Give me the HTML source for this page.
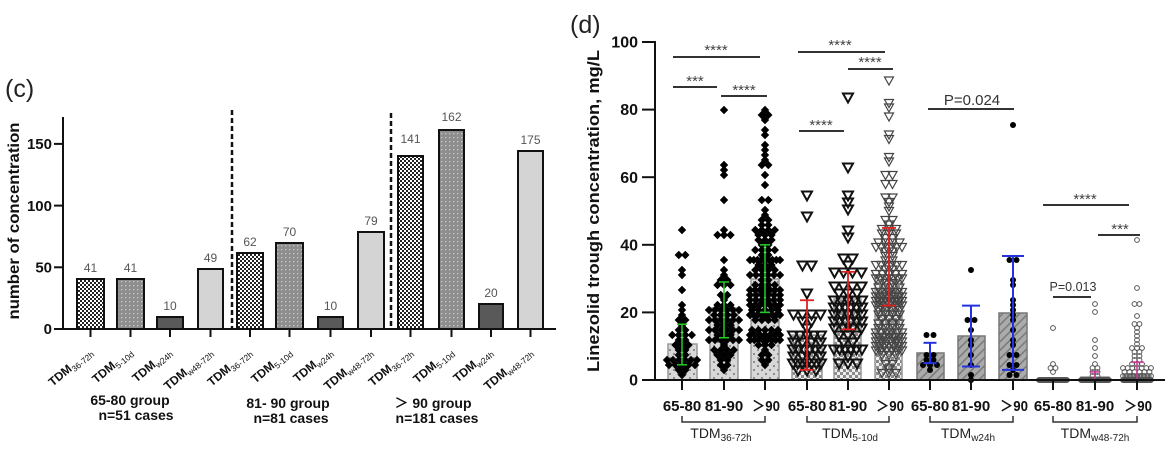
<!DOCTYPE html>
<html><head><meta charset="utf-8"><style>
html,body{margin:0;padding:0;background:#fff;}
svg{display:block;font-family:"Liberation Sans","Noto Sans CJK SC",sans-serif;}
</style></head><body>
<svg id="s" width="1166" height="450" viewBox="0 0 1166 450" xmlns="http://www.w3.org/2000/svg">
<defs>
<pattern id="chk" width="4" height="4" patternUnits="userSpaceOnUse"><rect width="4" height="4" fill="#fff"/><rect width="2" height="2" fill="#222"/><rect x="2" y="2" width="2" height="2" fill="#222"/></pattern>
<pattern id="dotc" width="4" height="4" patternUnits="userSpaceOnUse"><rect width="4" height="4" fill="#8e8e8e"/><rect x="1" y="1" width="1.3" height="1.3" fill="#c9c9c9"/></pattern>
<pattern id="dotd" width="8" height="8" patternUnits="userSpaceOnUse"><rect width="8" height="8" fill="#d8d8d8"/><circle cx="2" cy="2" r="1" fill="#777"/><circle cx="6" cy="6" r="1" fill="#777"/></pattern>
<pattern id="chkd" width="6" height="6" patternUnits="userSpaceOnUse"><rect width="6" height="6" fill="#eee"/><rect width="3" height="3" fill="#8a8a8a"/><rect x="3" y="3" width="3" height="3" fill="#8a8a8a"/></pattern>
<pattern id="hat" width="6" height="6" patternUnits="userSpaceOnUse" patternTransform="rotate(45)"><rect width="6" height="6" fill="#ababab"/><rect width="1.5" height="6" fill="#7a7a7a"/></pattern>
</defs>
<rect width="1166" height="450" fill="#fff"/>

<!-- ===== Panel (c) ===== -->
<text x="5" y="97" font-size="25" fill="#222">(c)</text>
<text transform="translate(19,221) rotate(-90)" text-anchor="middle" font-size="16" font-weight="bold" fill="#111" textLength="197" lengthAdjust="spacingAndGlyphs">number of concentration</text>

<g stroke="#111" stroke-width="2">
<line x1="63" y1="117" x2="63" y2="330"/>
<line x1="62" y1="329" x2="556" y2="329"/>
<line x1="54" y1="329" x2="63" y2="329"/>
<line x1="54" y1="267.3" x2="63" y2="267.3"/>
<line x1="54" y1="205.6" x2="63" y2="205.6"/>
<line x1="54" y1="143.9" x2="63" y2="143.9"/>
</g>
<g font-size="15" font-weight="bold" fill="#111" text-anchor="end">
<text x="52" y="334">0</text>
<text x="52" y="272.5">50</text>
<text x="52" y="211">100</text>
<text x="52" y="149">150</text>
</g>

<g stroke="#111" stroke-width="2.5" stroke-dasharray="5 3">
<line x1="232" y1="110" x2="232" y2="329"/>
<line x1="391" y1="113" x2="391" y2="329"/>
</g>

<g stroke="#111" stroke-width="2">
<rect x="77" y="279" width="27" height="50" fill="url(#chk)"/>
<rect x="117" y="279" width="27" height="50" fill="url(#dotc)"/>
<rect x="157" y="317" width="26" height="12" fill="#595959"/>
<rect x="198" y="269" width="25" height="60" fill="#d4d4d4"/>
<rect x="237" y="253" width="26" height="76" fill="url(#chk)"/>
<rect x="276" y="243" width="27" height="86" fill="url(#dotc)"/>
<rect x="318" y="317" width="25" height="12" fill="#595959"/>
<rect x="358" y="232" width="26" height="97" fill="#d4d4d4"/>
<rect x="398" y="156" width="25" height="173" fill="url(#chk)"/>
<rect x="439" y="130" width="25" height="199" fill="url(#dotc)"/>
<rect x="479" y="304" width="24" height="25" fill="#595959"/>
<rect x="518" y="151" width="25" height="178" fill="#d4d4d4"/>
</g>
<g font-size="12" fill="#555" text-anchor="middle">
<text x="90.5" y="272">41</text>
<text x="130.5" y="272">41</text>
<text x="170" y="310">10</text>
<text x="210.5" y="262">49</text>
<text x="250" y="246">62</text>
<text x="289.5" y="236">70</text>
<text x="330.5" y="310">10</text>
<text x="371" y="225">79</text>
<text x="410.5" y="143">141</text>
<text x="451.5" y="121">162</text>
<text x="491" y="297">20</text>
<text x="530.5" y="144">175</text>
</g>
<g stroke="#111" stroke-width="2">
<line x1="90.5" y1="329" x2="90.5" y2="337"/>
<line x1="130.5" y1="329" x2="130.5" y2="337"/>
<line x1="170" y1="329" x2="170" y2="337"/>
<line x1="210.5" y1="329" x2="210.5" y2="337"/>
<line x1="250" y1="329" x2="250" y2="337"/>
<line x1="289.5" y1="329" x2="289.5" y2="337"/>
<line x1="330.5" y1="329" x2="330.5" y2="337"/>
<line x1="371" y1="329" x2="371" y2="337"/>
<line x1="410.5" y1="329" x2="410.5" y2="337"/>
<line x1="451.5" y1="329" x2="451.5" y2="337"/>
<line x1="491" y1="329" x2="491" y2="337"/>
<line x1="530.5" y1="329" x2="530.5" y2="337"/>
</g>
<g fill="#111" text-anchor="end" font-size="12">
<text transform="translate(93,353) rotate(-40)"><tspan font-weight="bold">TDM</tspan><tspan font-size="8.5" dy="3">36-72h</tspan></text>
<text transform="translate(133,353) rotate(-40)"><tspan font-weight="bold">TDM</tspan><tspan font-size="8.5" dy="3">5-10d</tspan></text>
<text transform="translate(172,353) rotate(-40)"><tspan font-weight="bold">TDM</tspan><tspan font-size="8.5" dy="3">w24h</tspan></text>
<text transform="translate(213,353) rotate(-40)"><tspan font-weight="bold">TDM</tspan><tspan font-size="8.5" dy="3">w48-72h</tspan></text>
<text transform="translate(252,353) rotate(-40)"><tspan font-weight="bold">TDM</tspan><tspan font-size="8.5" dy="3">36-72h</tspan></text>
<text transform="translate(292,353) rotate(-40)"><tspan font-weight="bold">TDM</tspan><tspan font-size="8.5" dy="3">5-10d</tspan></text>
<text transform="translate(333,353) rotate(-40)"><tspan font-weight="bold">TDM</tspan><tspan font-size="8.5" dy="3">w24h</tspan></text>
<text transform="translate(373,353) rotate(-40)"><tspan font-weight="bold">TDM</tspan><tspan font-size="8.5" dy="3">w48-72h</tspan></text>
<text transform="translate(413,353) rotate(-40)"><tspan font-weight="bold">TDM</tspan><tspan font-size="8.5" dy="3">36-72h</tspan></text>
<text transform="translate(454,353) rotate(-40)"><tspan font-weight="bold">TDM</tspan><tspan font-size="8.5" dy="3">5-10d</tspan></text>
<text transform="translate(493,353) rotate(-40)"><tspan font-weight="bold">TDM</tspan><tspan font-size="8.5" dy="3">w24h</tspan></text>
<text transform="translate(533,353) rotate(-40)"><tspan font-weight="bold">TDM</tspan><tspan font-size="8.5" dy="3">w48-72h</tspan></text>
</g>
<g font-size="14" font-weight="bold" fill="#111" text-anchor="middle">
<text x="130" y="405">65-80 group</text>
<text x="136" y="420">n=51 cases</text>
<text x="288" y="408">81- 90 group</text>
<text x="291" y="423">n=81 cases</text>
<text x="433" y="408">＞ 90 group</text>
<text x="437" y="423">n=181 cases</text>
</g>

<!-- ===== Panel (d) ===== -->
<text x="570" y="33" font-size="25" fill="#222">(d)</text>
<text transform="translate(599,211) rotate(-90)" text-anchor="middle" font-size="16.5" font-weight="bold" fill="#111" textLength="322" lengthAdjust="spacingAndGlyphs">Linezolid trough concentration, mg/L</text>

<g stroke="#999" stroke-width="1.5">
<rect x="668" y="344" width="29" height="36" fill="url(#dotd)"/>
<rect x="710" y="308" width="28" height="72" fill="url(#dotd)"/>
<rect x="751" y="279" width="28" height="101" fill="url(#dotd)"/>
<rect x="792" y="335" width="30" height="45" fill="url(#chkd)"/>
<rect x="834" y="299" width="27" height="81" fill="url(#chkd)"/>
<rect x="875" y="275" width="27" height="105" fill="url(#chkd)"/>
<rect x="917" y="353" width="27" height="27" fill="url(#hat)" stroke="#777"/>
<rect x="958" y="336" width="27" height="44" fill="url(#hat)" stroke="#777"/>
<rect x="999" y="313" width="28" height="67" fill="url(#hat)" stroke="#777"/>
<rect x="1039" y="378" width="28" height="2" fill="#999"/>
<rect x="1081" y="377" width="28" height="3" fill="#999"/>
<rect x="1123" y="374" width="28" height="6" fill="#999"/>
</g>

<g id="pts"></g>
<g id="ebs"></g>

<g stroke="#111" stroke-width="2">
<line x1="655" y1="41" x2="655" y2="381"/>
<line x1="654" y1="380" x2="1165" y2="380"/>
<line x1="642" y1="380" x2="655" y2="380"/>
<line x1="642" y1="312.4" x2="655" y2="312.4"/>
<line x1="642" y1="244.8" x2="655" y2="244.8"/>
<line x1="642" y1="177.2" x2="655" y2="177.2"/>
<line x1="642" y1="109.6" x2="655" y2="109.6"/>
<line x1="642" y1="42" x2="655" y2="42"/>
</g>
<g font-size="16" font-weight="bold" fill="#111" text-anchor="end">
<text x="638" y="385.5">0</text>
<text x="638" y="318">20</text>
<text x="638" y="250.5">40</text>
<text x="638" y="183">60</text>
<text x="638" y="115">80</text>
<text x="638" y="47.5">100</text>
</g>
<g stroke="#111" stroke-width="2">
<line x1="682" y1="380" x2="682" y2="390"/>
<line x1="724" y1="380" x2="724" y2="390"/>
<line x1="765" y1="380" x2="765" y2="390"/>
<line x1="807" y1="380" x2="807" y2="390"/>
<line x1="848" y1="380" x2="848" y2="390"/>
<line x1="889" y1="380" x2="889" y2="390"/>
<line x1="930" y1="380" x2="930" y2="390"/>
<line x1="971" y1="380" x2="971" y2="390"/>
<line x1="1013" y1="380" x2="1013" y2="390"/>
<line x1="1053" y1="380" x2="1053" y2="390"/>
<line x1="1095" y1="380" x2="1095" y2="390"/>
<line x1="1137" y1="380" x2="1137" y2="390"/>
</g>
<g font-size="15" font-weight="bold" fill="#111" text-anchor="middle">
<text x="682" y="411">65-80</text>
<text x="724" y="411">81-90</text>
<text x="766" y="411" textLength="28" lengthAdjust="spacingAndGlyphs">＞90</text>
<text x="807" y="411">65-80</text>
<text x="848" y="411">81-90</text>
<text x="890" y="411" textLength="28" lengthAdjust="spacingAndGlyphs">＞90</text>
<text x="930" y="411">65-80</text>
<text x="971" y="411">81-90</text>
<text x="1014" y="411" textLength="28" lengthAdjust="spacingAndGlyphs">＞90</text>
<text x="1053" y="411">65-80</text>
<text x="1095" y="411">81-90</text>
<text x="1138" y="411" textLength="28" lengthAdjust="spacingAndGlyphs">＞90</text>
</g>
<g stroke="#333" stroke-width="1.5" fill="none">
<path d="M682 416V422H765V416"/>
<path d="M807 416V422H889V416"/>
<path d="M930 416V422H1013V416"/>
<path d="M1053 416V422H1137V416"/>
</g>
<g font-size="14" fill="#222" text-anchor="middle">
<text x="721" y="438">TDM<tspan font-size="10" dy="3">36-72h</tspan></text>
<text x="850" y="438">TDM<tspan font-size="10" dy="3">5-10d</tspan></text>
<text x="968" y="438">TDM<tspan font-size="10" dy="3">w24h</tspan></text>
<text x="1095" y="438">TDM<tspan font-size="10" dy="3">w48-72h</tspan></text>
</g>

<!-- significance -->
<g stroke="#333" stroke-width="2">
<line x1="673" y1="57" x2="760" y2="57"/>
<line x1="673" y1="87" x2="717" y2="87"/>
<line x1="721" y1="96" x2="767" y2="96"/>
<line x1="798" y1="52" x2="885" y2="52"/>
<line x1="848" y1="69" x2="893" y2="69"/>
<line x1="799" y1="131" x2="844" y2="131"/>
<line x1="928" y1="109" x2="1014" y2="109"/>
<line x1="1043" y1="205" x2="1129" y2="205"/>
<line x1="1098" y1="235" x2="1140" y2="235"/>
<line x1="1053" y1="297" x2="1091" y2="297"/>
</g>
<g font-size="15" fill="#444" text-anchor="middle">
<text x="716" y="55">****</text>
<text x="695" y="86">***</text>
<text x="744" y="95">****</text>
<text x="840" y="50">****</text>
<text x="870" y="67">****</text>
<text x="821" y="130">****</text>
<text x="1085" y="204">****</text>
<text x="1120" y="234">***</text>
</g>
<text x="972" y="105" font-size="15" fill="#333" text-anchor="middle">P=0.024</text>
<text x="1073" y="291" font-size="12.5" fill="#333" text-anchor="middle">P=0.013</text>
</svg>
<script>
(function(){
function R(a){return function(){a|=0;a=a+0x6D2B79F5|0;var t=Math.imul(a^a>>>15,1|a);t=t+Math.imul(t^t>>>7,61|t)^t;return((t^t>>>14)>>>0)/4294967296;};}
var r=R(20240);
function gam(mean,k,max){for(var it=0;it<200;it++){var s=0;for(var i=0;i<k;i++)s+=-Math.log(1-r());var v=s*mean/k;if(v<=max)return v;}return max*r();}
function vals(n,mean,k,max,extra){var a=extra.slice();while(a.length<n)a.push(gam(mean,k,max));return a;}
function z(n,ex){var a=ex.slice();while(a.length<n)a.push(r()*0.5);return a;}
function Y(v){return 380-v*3.38;}
function swarm(vs,cx,bin,sp,mh){var m={};vs.forEach(function(v){var b=Math.round(Y(v)/bin);(m[b]=m[b]||[]).push(v);});var out=[];for(var b in m){var n=m[b].length;var s=n>1?Math.min(sp,2*mh/(n-1)):0;for(var i=0;i<n;i++)out.push([cx+(i-(n-1)/2)*s,b*bin]);}return out;}
var G=[
 {cx:682,v:vals(41,11,2,30,[44,37,37,33,31,26]),m:'d'},
 {cx:724,v:vals(70,19,3,50,[80,63,62,61,53]),m:'d'},
 {cx:765,v:vals(141,27,4,55,[80,79,78,77,74,72,70,68,67,65,63,63,60,58]),m:'d'},
 {cx:807,v:vals(41,11,2,30,[54,48,34,33,26]),m:'t'},
 {cx:848,v:vals(62,21,3,45,[84,63,55,52,51]),m:'t'},
 {cx:889,v:vals(162,28,3,60,[89,82,80,78,73,71,66,64,61,61]),m:'t2'},
 {cx:930,v:[12.7,12.7,8,7,6,5.5,5,4.5,4,3.5],m:'c'},
 {cx:971,v:[33,18,17.5,15,12,11,8,4,1,0],m:'c'},
 {cx:1013,v:[75.5,36,35,30,28,24,22,20,19,18,15,12,10,8,7,5,4,3,2,1],m:'c'},
 {cx:1053,v:z(49,[15,4.5,4,3,2]),m:'o'},
 {cx:1095,v:z(79,[23,20,12,9,7,5,4,3,2.5,2,1.5,1]),m:'o'},
 {cx:1137,v:z(175,[41,27,23,22,19,17,16,15,14,13,12,11,10,9,9,8,8,7,7,6,6,5,5,5,4,4,4,3,3,3,3,2.5,2.5,2,2,2,2,1.5,1.5,1.5,1.5,1,1,1,1,1]),m:'o'}
];
var P={d:[5,6.5,15],t:[7,9,14],t2:[4.5,7,13],c:[5,7,12],o:[4,5,14]};
var h='';
G.forEach(function(g){
 var p=P[g.m];var pts=swarm(g.v,g.cx,p[0],p[1],p[2]);
 if(g.m==='d'){h+='<g fill="#000">';pts.forEach(function(q){var x=q[0].toFixed(1),y=q[1];h+='<path d="M'+x+' '+(y-4.3).toFixed(1)+'l4.2 4.3l-4.2 4.3l-4.2-4.3z"/>';});h+='</g>';}
 else if(g.m==='t'){h+='<g fill="none" stroke="#111" stroke-width="2">';pts.forEach(function(q){var x=q[0],y=q[1];h+='<polygon points="'+(x-5).toFixed(1)+','+(y-4.5).toFixed(1)+' '+(x+5).toFixed(1)+','+(y-4.5).toFixed(1)+' '+x.toFixed(1)+','+(y+4.5).toFixed(1)+'"/>';});h+='</g>';}
 else if(g.m==='t2'){h+='<g fill="none" stroke="#444" stroke-width="1.2">';pts.forEach(function(q){var x=q[0],y=q[1];h+='<polygon points="'+(x-4.5).toFixed(1)+','+(y-4).toFixed(1)+' '+(x+4.5).toFixed(1)+','+(y-4).toFixed(1)+' '+x.toFixed(1)+','+(y+4).toFixed(1)+'"/>';});h+='</g>';}
 else if(g.m==='c'){h+='<g fill="#000">';pts.forEach(function(q){h+='<circle cx="'+q[0].toFixed(1)+'" cy="'+q[1]+'" r="3"/>';});h+='</g>';}
 else {h+='<g fill="none" stroke="#555" stroke-width="1">';pts.forEach(function(q){h+='<circle cx="'+q[0].toFixed(1)+'" cy="'+q[1]+'" r="2.4"/>';});h+='</g>';}
});
document.getElementById('pts').innerHTML=h;
var E=[[682,4.5,16.5,'#22cc22',10,1.5],[724,12.5,29,'#22cc22',10,1.5],[765,20,40,'#22cc22',10,1.5],
[807,3,23.6,'#dd2222',14,1.8],[848,15,32,'#dd2222',14,1.8],[889,22,45,'#dd2222',14,1.8],
[930,5,11,'#2233dd',13,2],[971,4,22,'#2233dd',18,2],[1013,3,36.7,'#2233dd',22,2],
[1095,0,2.4,'#cc3399',10,1.5],[1137,0,5.3,'#cc3399',12,1.5]];
var e='';
E.forEach(function(a){var x=a[0],y1=Y(a[1]),y2=Y(a[2]),w=a[4]/2;e+='<g stroke="'+a[3]+'" stroke-width="'+a[5]+'"><line x1="'+x+'" y1="'+y1+'" x2="'+x+'" y2="'+y2+'"/><line x1="'+(x-w)+'" y1="'+y2+'" x2="'+(x+w)+'" y2="'+y2+'"/>'+(a[1]>0?'<line x1="'+(x-w)+'" y1="'+y1+'" x2="'+(x+w)+'" y2="'+y1+'"/>':'')+'</g>';});
document.getElementById('ebs').innerHTML=e;
})();
</script>
</body></html>
